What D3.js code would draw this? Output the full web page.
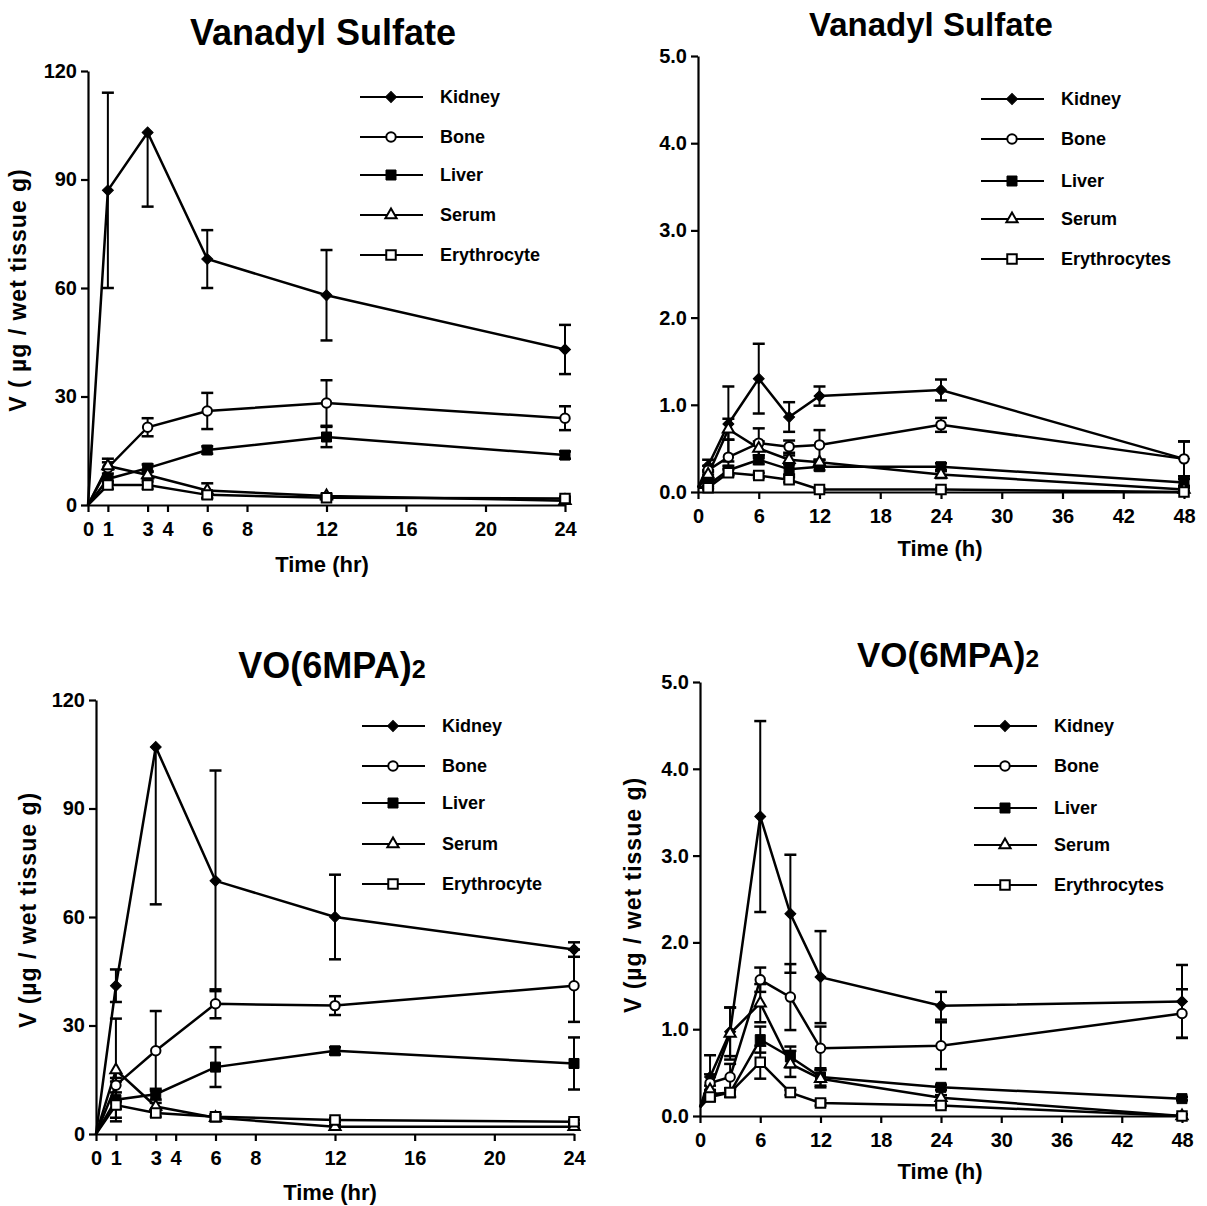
<!DOCTYPE html>
<html>
<head>
<meta charset="utf-8">
<script src="https://cdn.jsdelivr.net/npm/d3@7"></script>
<style>
  body { margin: 0; background: #fff; }
  svg { font-family: "Liberation Sans", Arial, sans-serif; font-weight: bold; }
</style>
</head>
<body>
<svg id="chart" width="1207" height="1206"></svg>
<script>
// Series order: Kidney, Bone, Liver, Serum, Erythrocyte(s)
const seriesNames = ["Kidney", "Bone", "Liver", "Serum", "Erythrocyte"];
const seriesNamesPlural = ["Kidney", "Bone", "Liver", "Serum", "Erythrocytes"];

const hours24 = [0, 1, 3, 6, 12, 24];
const hours48 = [0, 1, 3, 6, 9, 12, 24, 48];
const ticks24 = [0, 1, 3, 4, 6, 8, 12, 16, 20, 24];
const ticks48 = [0, 6, 12, 18, 24, 30, 36, 42, 48];
const yTicks120 = [0, 30, 60, 90, 120];
const yTicks5 = [0, 1, 2, 3, 4, 5];

// Vanadyl sulfate, 24 h
const vs24Mean = [
  [0, 87, 103, 68, 58, 43],
  [0, 10.3, 21.5, 26, 28.2, 24],
  [0, 7.2, 10.2, 15.2, 18.8, 13.8],
  [0, 10.8, 8.3, 4, 2.5, 1.2],
  [0, 5.5, 5.5, 2.8, 2, 1.8]
];
const vs24Err = [
  [0, 27, 20.5, 8, 12.5, 6.8],
  [0, 2.5, 2.5, 5, 6.3, 3.3],
  [0, 1.5, 1, 1, 2.8, 1],
  [0, 1, 1, 2, 0.5, 0.5],
  [0, 1, 1, 1, 0.5, 0.5]
];

// Vanadyl sulfate, 48 h
const vs48Mean = [
  [0.05, 0.3, 0.78, 1.3, 0.86, 1.1, 1.17, 0.38],
  [0.05, 0.25, 0.4, 0.56, 0.52, 0.54, 0.77, 0.38],
  [0.05, 0.08, 0.25, 0.37, 0.26, 0.29, 0.29, 0.11],
  [0.05, 0.2, 0.72, 0.5, 0.37, 0.34, 0.2, 0.03],
  [0.05, 0.05, 0.22, 0.19, 0.14, 0.03, 0.03, 0.0]
];
const vs48Err = [
  [0, 0.07, 0.43, 0.4, 0.17, 0.11, 0.12, 0.2],
  [0, 0.05, 0.2, 0.17, 0.07, 0.17, 0.08, 0.2],
  [0, 0.03, 0.05, 0.05, 0.06, 0.04, 0.04, 0.04],
  [0, 0.05, 0.12, 0.08, 0.05, 0.03, 0.04, 0.02],
  [0, 0.02, 0.04, 0.03, 0.03, 0.01, 0.01, 0.01]
];

// VO(6MPA)2, 24 h
const mpa24Mean = [
  [0, 41, 107, 70, 60, 51],
  [0, 13.5, 23, 36, 35.5, 41],
  [0, 9.5, 11, 18.5, 23, 19.5],
  [0, 17.7, 7.6, 4.5, 2, 2],
  [0, 8, 5.8, 4.8, 3.9, 3.4]
];
const mpa24Err = [
  [0, 4.5, 43.5, 30.5, 11.7, 2],
  [0, 2, 11, 4, 2.6, 10],
  [0, 5, 1.5, 5.5, 1, 7.2],
  [0, 14.2, 1, 1, 0.5, 0.5],
  [0, 1, 1, 0.5, 0.5, 0.5]
];

// VO(6MPA)2, 48 h
const mpa48Mean = [
  [0.1, 0.45, 0.97, 3.45, 2.33, 1.6, 1.27, 1.32],
  [0.1, 0.38, 0.45, 1.57, 1.37, 0.78, 0.81, 1.18],
  [0.1, 0.25, 0.27, 0.88, 0.68, 0.45, 0.33, 0.2],
  [0.1, 0.3, 0.95, 1.3, 0.6, 0.43, 0.21, 0.0],
  [0.1, 0.22, 0.27, 0.62, 0.27, 0.15, 0.12, 0.0]
];
const mpa48Err = [
  [0, 0.25, 0.28, 1.1, 0.68, 0.53, 0.16, 0.42],
  [0, 0.1, 0.15, 0.14, 0.38, 0.25, 0.27, 0.28],
  [0, 0.05, 0.05, 0.15, 0.12, 0.1, 0.03, 0.02],
  [0, 0.05, 0.3, 0.22, 0.15, 0.1, 0.03, 0.02],
  [0, 0.05, 0.05, 0.19, 0.03, 0.03, 0.02, 0.02]
];

const svg = d3.select("#chart");

// Marker per series (diamond = square turned 45 degrees).
const markerTypes = [d3.symbolSquare, d3.symbolCircle, d3.symbolSquare, d3.symbolTriangle, d3.symbolSquare];
const markerSizes = [60, 70, 100, 55, 90];
const markerFilled = [true, false, true, false, false];

function drawMarker(g, i, x, y) {
  g.append("path")
    .attr("d", d3.symbol().type(markerTypes[i]).size(markerSizes[i])())
    .attr("transform", `translate(${x},${y})${i === 0 ? " rotate(45)" : ""}`)
    .attr("fill", markerFilled[i] ? "#000" : "#fff")
    .attr("stroke", "#000")
    .attr("stroke-width", markerFilled[i] ? 1 : 2);
}

function panel(cfg) {
  const x = d3.scaleLinear().domain(cfg.xDomain).range(cfg.xRange);
  const y = d3.scaleLinear().domain(cfg.yDomain).range(cfg.yRange);
  const g = svg.append("g");

  // Title
  const title = g.append("text")
    .attr("x", cfg.titleX).attr("y", cfg.titleY)
    .attr("text-anchor", "middle")
    .attr("font-size", cfg.titleSize);
  title.append("tspan").text(cfg.title);
  if (cfg.titleSub) title.append("tspan").attr("font-size", cfg.titleSize * 0.7).text(cfg.titleSub);

  // Axes
  const yAxis = g.append("g")
    .attr("transform", `translate(${cfg.xRange[0]},0)`)
    .call(d3.axisLeft(y).tickValues(cfg.yTicks).tickSize(7).tickSizeOuter(0).tickPadding(4)
      .tickFormat(cfg.yFormat));
  const xAxis = g.append("g")
    .attr("transform", `translate(0,${cfg.yRange[0]})`)
    .call(d3.axisBottom(x).tickValues(cfg.xTicks).tickSize(7).tickSizeOuter(0).tickPadding(10)
      .tickFormat(d3.format("d")));
  [yAxis, xAxis].forEach(a => {
    a.selectAll("text").attr("font-size", 20).attr("font-weight", "bold").attr("fill", "#000");
    a.selectAll("line, path").attr("stroke", "#000").attr("stroke-width", 2.2);
    a.attr("font-family", null);
  });

  // Axis labels
  g.append("text")
    .attr("x", cfg.xLabelX).attr("y", cfg.xLabelY)
    .attr("text-anchor", "middle").attr("font-size", 22)
    .text(cfg.xLabel);
  if (cfg.yLabel) {
    g.append("text")
      .attr("transform", `translate(${cfg.yLabelX},${cfg.yLabelY}) rotate(-90)`)
      .attr("text-anchor", "middle").attr("dy", "0.35em").attr("font-size", 23)
      .attr("letter-spacing", 1)
      .text(cfg.yLabel);
  }

  const yMax = cfg.yDomain[1];

  // Lines
  const line = d3.line().x(d => x(d[0])).y(d => y(d[1]));
  cfg.mean.forEach((vals, i) => {
    g.append("path")
      .datum(cfg.hours.map((h, k) => [h, vals[k]]))
      .attr("d", line)
      .attr("fill", "none").attr("stroke", "#000").attr("stroke-width", 2.5);
  });

  // Error bars (a half that would leave the axis range is left out)
  cfg.mean.forEach((vals, i) => {
    cfg.hours.forEach((h, k) => {
      const e = cfg.err[i][k];
      if (!e) return;
      const cx = x(h);
      [vals[k] + e, vals[k] - e].forEach(v => {
        if (v > yMax || v < 0) return;
        g.append("line")
          .attr("x1", cx).attr("x2", cx)
          .attr("y1", y(vals[k])).attr("y2", y(v))
          .attr("stroke", "#000").attr("stroke-width", 2);
        g.append("line")
          .attr("x1", cx - 6).attr("x2", cx + 6)
          .attr("y1", y(v)).attr("y2", y(v))
          .attr("stroke", "#000").attr("stroke-width", 2.5);
      });
    });
  });

  // Markers
  cfg.mean.forEach((vals, i) => {
    cfg.hours.forEach((h, k) => {
      if (h === 0) return;
      drawMarker(g, i, x(h), y(vals[k]));
    });
  });

  // Legend
  cfg.names.forEach((name, i) => {
    const ly = cfg.legendRows[i];
    g.append("line")
      .attr("x1", cfg.legendX).attr("x2", cfg.legendX + 63)
      .attr("y1", ly).attr("y2", ly)
      .attr("stroke", "#000").attr("stroke-width", 2.2);
    drawMarker(g, i, cfg.legendX + 31, ly);
    g.append("text")
      .attr("x", cfg.legendX + 80).attr("y", ly).attr("dy", "0.35em")
      .attr("font-size", 18)
      .text(name);
  });
}

const fmt0 = d3.format("d");
const fmt1 = d3.format(".1f");

panel({
  title: "Vanadyl Sulfate", titleX: 323, titleY: 45, titleSize: 36,
  xDomain: [0, 24], xRange: [88, 565], yDomain: [0, 120], yRange: [505, 71],
  xTicks: ticks24, yTicks: yTicks120, yFormat: fmt0,
  xLabel: "Time (hr)", xLabelX: 322, xLabelY: 572,
  yLabel: "V ( µg / wet tissue g)", yLabelX: 18, yLabelY: 290,
  hours: hours24, mean: vs24Mean, err: vs24Err,
  names: seriesNames, legendX: 360, legendRows: [97, 137, 175, 215, 255]
});

panel({
  title: "Vanadyl Sulfate", titleX: 931, titleY: 36, titleSize: 33,
  xDomain: [0, 48], xRange: [698, 1184], yDomain: [0, 5], yRange: [492, 56],
  xTicks: ticks48, yTicks: yTicks5, yFormat: fmt1,
  xLabel: "Time (h)", xLabelX: 940, xLabelY: 556,
  yLabel: null,
  hours: hours48, mean: vs48Mean, err: vs48Err,
  names: seriesNamesPlural, legendX: 981, legendRows: [99, 139, 181, 219, 259]
});

panel({
  title: "VO(6MPA)", titleSub: "2", titleX: 332, titleY: 678, titleSize: 36,
  xDomain: [0, 24], xRange: [96, 574], yDomain: [0, 120], yRange: [1134, 700],
  xTicks: ticks24, yTicks: yTicks120, yFormat: fmt0,
  xLabel: "Time (hr)", xLabelX: 330, xLabelY: 1200,
  yLabel: "V (µg / wet tissue g)", yLabelX: 28, yLabelY: 910,
  hours: hours24, mean: mpa24Mean, err: mpa24Err,
  names: seriesNames, legendX: 362, legendRows: [726, 766, 803, 844, 884]
});

panel({
  title: "VO(6MPA)", titleSub: "2", titleX: 948, titleY: 667, titleSize: 35,
  xDomain: [0, 48], xRange: [700, 1182], yDomain: [0, 5], yRange: [1116, 682],
  xTicks: ticks48, yTicks: yTicks5, yFormat: fmt1,
  xLabel: "Time (h)", xLabelX: 940, xLabelY: 1179,
  yLabel: "V (µg / wet tissue g)", yLabelX: 633, yLabelY: 895,
  hours: hours48, mean: mpa48Mean, err: mpa48Err,
  names: seriesNamesPlural, legendX: 974, legendRows: [726, 766, 808, 845, 885]
});
</script>
</body>
</html>
